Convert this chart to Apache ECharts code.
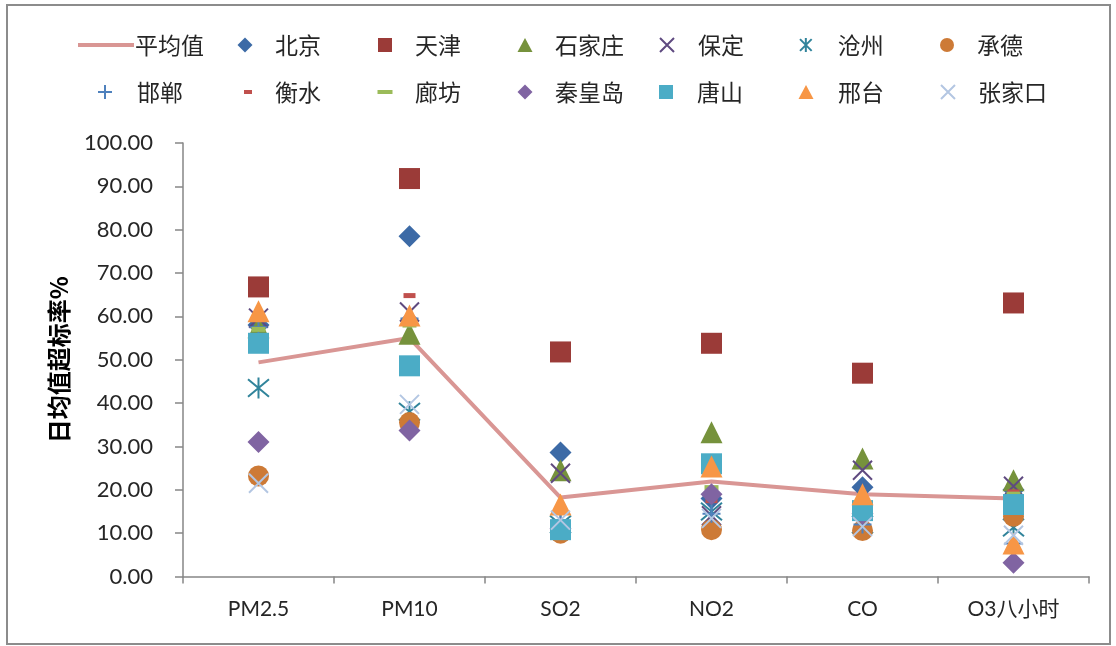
<!DOCTYPE html>
<html>
<head>
<meta charset="utf-8">
<script src="https://cdn.jsdelivr.net/npm/echarts@6/dist/echarts.min.js"></script>
<style>html,body{margin:0;padding:0;background:#fff}#c{width:1116px;height:646px}</style>
</head>
<body>
<div id="c"></div>
<script>
// ---- data ----
const categories = ['PM2.5', 'PM10', 'SO2', 'NO2', 'CO', 'O3八小时'];
const yTicks = [0, 10, 20, 30, 40, 50, 60, 70, 80, 90, 100];
const avg        = [49.4, 55.0, 18.2, 21.9, 19.0, 18.0];
const beijing    = [58.0, 78.5, 28.6, 18.0, 20.6, 20.0];
const tianjin    = [66.8, 91.8, 51.8, 53.8, 46.9, 63.1];
const shijiazhuang = [57.5, 56.0, 24.5, 33.3, 27.2, 22.2];
const baoding    = [59.6, 61.0, 23.8, 14.0, 24.5, 20.8];
const cangzhou   = [43.5, 38.0, 12.0, 15.0, 12.0, 11.3];
const chengde    = [23.2, 35.5, 10.0, 10.8, 10.6, 13.9];
const handan     = [57.5, 59.5, 13.0, 14.5, 12.0, 7.6];
const hengshui   = [60.0, 64.8, 12.0, 17.5, 13.4, 19.5];
const langfang   = [57.0, 58.0, 12.0, 20.5, 15.5, 19.0];
const qinhuangdao= [31.0, 33.7, 11.0, 19.0, 14.5, 3.2];
const tangshan   = [53.8, 48.6, 10.8, 26.0, 15.2, 16.6];
const xingtai    = [61.2, 60.2, 16.6, 25.4, 19.0, 7.6];
const zhangjiakou= [21.5, 39.7, 13.0, 13.4, 11.5, 9.5];

const X = 'path://M0,0L10,10M10,0L0,10';
const AST = 'path://M0,0L10,10M10,0L0,10M5,-1L5,11';
const PLUS = 'path://M5,0L5,10M0,5L10,5';

const cjk = "Lato, 'Noto Sans CJK SC', sans-serif";

function filled(name, data, symbol, size, color) {
  return {name, type: 'scatter', data, symbol, symbolSize: size, z: 3,
    itemStyle: {color, opacity: 1}};
}
function stroked(name, data, symbol, size, color) {
  return {name, type: 'scatter', data, symbol, symbolSize: size, z: 3,
    itemStyle: {color: 'rgba(0,0,0,0)', borderColor: color, borderWidth: 2, opacity: 1}};
}

const series = [
  {name: '平均值', type: 'line', data: avg, symbol: 'none', showSymbol: false, z: 2,
    lineStyle: {color: '#D99694', width: 4}, itemStyle: {color: '#D99694'}},
  filled('北京', beijing, 'diamond', 22, '#3C6AA6'),
  filled('天津', tianjin, 'rect', 21, '#9B3B38'),
  filled('石家庄', shijiazhuang, 'triangle', 22, '#76923C'),
  stroked('保定', baoding, X, 19, '#5F4A80'),
  stroked('沧州', cangzhou, AST, 21, '#31849B'),
  filled('承德', chengde, 'circle', 21, '#CD7A36'),
  stroked('邯郸', handan, PLUS, 18, '#4F81BD'),
  filled('衡水', hengshui, 'rect', [12, 5], '#C0504D'),
  filled('廊坊', langfang, 'rect', [14, 5], '#9BBB59'),
  filled('秦皇岛', qinhuangdao, 'diamond', 22, '#8064A2'),
  filled('唐山', tangshan, 'rect', 21, '#4BACC6'),
  filled('邢台', xingtai, 'triangle', 22, '#F79646'),
  stroked('张家口', zhangjiakou, X, 19, '#B3C6E2'),
];

// legend layout: [name, icon centre x, text start x, row centre y]
const legendPos = [
  ['北京', 245, 275, 45], ['天津', 385, 415, 45], ['石家庄', 525, 555, 45],
  ['保定', 666, 697, 45], ['沧州', 806, 838, 45], ['承德', 947, 977, 45],
  ['邯郸', 104, 136, 92], ['衡水', 248, 275, 92], ['廊坊', 385, 415, 92], ['秦皇岛', 525, 555, 92],
  ['唐山', 666, 697, 92], ['邢台', 806, 838, 92], ['张家口', 947, 977, 92]
];
const legendIcons = {
  '北京': ['diamond', 15, 15], '天津': ['rect', 14, 14], '石家庄': ['triangle', 15, 14],
  '保定': [X, 14, 14], '沧州': [AST, 14, 14], '承德': ['circle', 14, 14],
  '邯郸': [PLUS, 14, 14], '衡水': ['rect', 8, 4], '廊坊': ['rect', 15, 4],
  '秦皇岛': ['diamond', 15, 15], '唐山': ['rect', 14, 14], '邢台': ['triangle', 15, 14],
  '张家口': [X, 14, 14]
};
const txt = {fontSize: 23, color: '#262626', fontFamily: "'Noto Sans CJK SC', sans-serif", lineHeight: 26};
const legends = legendPos.map(([name, cx, tx, cy]) => {
  const [icon, w, h] = legendIcons[name];
  const left = cx - w / 2;
  return {
    data: [{name, icon}], left, top: cy - 13, padding: 0, selectedMode: false,
    itemWidth: w, itemHeight: h,
    textStyle: Object.assign({}, txt, {padding: [0, 0, 0, tx - (left + w + 5)]})
  };
});
legends.unshift({
  data: [{name: '平均值', icon: 'path://M0,0h56v4h-56z'}], left: 78, top: 45 - 13, padding: 0,
  selectedMode: false, itemWidth: 56, itemHeight: 4,
  itemStyle: {color: '#D99694'},
  textStyle: Object.assign({}, txt, {padding: [0, 0, 0, -4]})
});

const option = {
  animation: false,
  backgroundColor: '#fff',
  legend: legends,
  grid: {left: 183, right: 27, top: 143, bottom: 69.5},
  xAxis: {
    type: 'category', data: categories, boundaryGap: true,
    axisLine: {lineStyle: {color: '#868686', width: 1.5}},
    axisTick: {show: true, length: 7, lineStyle: {color: '#868686', width: 1.5}},
    axisLabel: {fontSize: 21, color: '#262626', fontFamily: cjk, margin: 22}
  },
  yAxis: {
    type: 'value', min: yTicks[0], max: yTicks[yTicks.length - 1], interval: 10,
    name: '日均值超标率%', nameLocation: 'middle', nameGap: 112, nameRotate: 90,
    nameTextStyle: {fontSize: 24, fontWeight: 'bold', color: '#000', fontFamily: "'Noto Sans CJK SC', serif"},
    axisLine: {show: true, lineStyle: {color: '#868686', width: 1.5}},
    axisTick: {show: true, inside: false, length: 8, lineStyle: {color: '#868686', width: 1.5}},
    splitLine: {show: false},
    axisLabel: {fontSize: 22, color: '#262626', fontFamily: cjk, margin: 30,
      formatter: v => v.toFixed(2)}
  },
  graphic: [{type: 'rect', shape: {x: 7, y: 5, width: 1103, height: 639},
    style: {fill: 'none', stroke: '#8C8C8C', lineWidth: 2}, silent: true, z: -1}],
  series
};
const chart = echarts.init(document.getElementById('c'), null, {renderer: 'canvas'});
chart.setOption(option);
</script>
</body>
</html>
